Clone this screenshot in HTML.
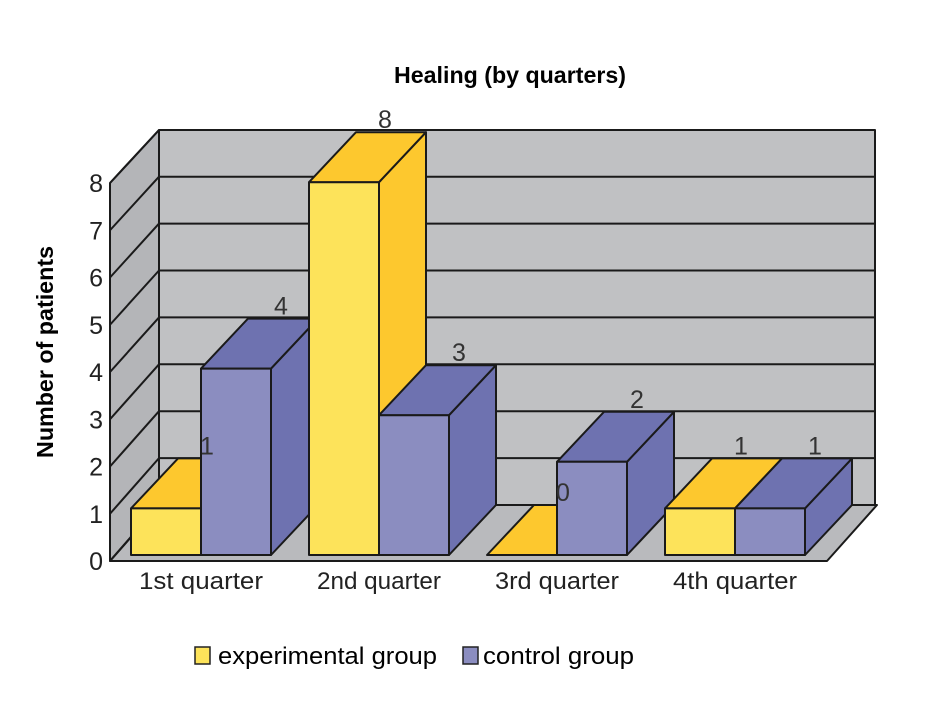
<!DOCTYPE html>
<html><head><meta charset="utf-8"><style>
html,body{margin:0;padding:0;background:#fff;width:933px;height:712px;overflow:hidden}
svg{display:block;font-family:"Liberation Sans",sans-serif}
</style></head><body>
<svg id="chart" width="933" height="712" viewBox="0 0 933 712" xmlns="http://www.w3.org/2000/svg">
<text x="510" y="83" font-size="23" font-weight="bold" text-anchor="middle" textLength="232" lengthAdjust="spacingAndGlyphs">Healing (by quarters)</text>
<text transform="translate(53,352) rotate(-90)" font-size="23" font-weight="bold" text-anchor="middle" textLength="212" lengthAdjust="spacingAndGlyphs">Number of patients</text>
<g id="walls"></g><g id="bars"></g><g id="labels"></g>
<g>
<rect x="195" y="647" width="15" height="17" fill="#fde35a" stroke="#222" stroke-width="1.5"/>
<text x="218" y="664" font-size="24" textLength="219" lengthAdjust="spacingAndGlyphs">experimental group</text>
<rect x="463" y="647" width="15" height="17" fill="#8b8dc0" stroke="#222" stroke-width="1.5"/>
<text x="483" y="664" font-size="24" textLength="151" lengthAdjust="spacingAndGlyphs">control group</text>
</g>
</svg>
<script>
const categories=["1st quarter","2nd quarter","3rd quarter","4th quarter"];
const experimental=[1,8,0,1];
const control=[4,3,2,1];
const ticks=[0,1,2,3,4,5,6,7,8];
const NS="http://www.w3.org/2000/svg";
const wallFrontX=110, wallBackX=159, wallRight=875;
const front0=561, frontUnit=47.25, back0=505, backUnit=46.9, wallTop=130;
const barBase=555, barUnit=46.6, bdx=47, bdy=-50, barW=70, firstX=131, pitch=178;
const yFront=v=>front0-v*frontUnit;
const yBack=v=>back0-v*backUnit;
const yBar=v=>barBase-v*barUnit;
const xGroup=i=>firstX+i*pitch;
function mk(tag,attrs,parent){const e=document.createElementNS(NS,tag);for(const k in attrs)e.setAttribute(k,attrs[k]);parent.appendChild(e);return e;}
const walls=document.getElementById('walls'),bars=document.getElementById('bars'),labels=document.getElementById('labels');
const S={stroke:"#1a1a1a","stroke-width":2,"stroke-linejoin":"round"};
let e;
e=mk('polygon',Object.assign({points:`${wallBackX},${wallTop} ${wallRight},${wallTop} ${wallRight},${back0} ${wallBackX},${back0}`,fill:"#c0c1c3"},S),walls);

e=mk('polygon',Object.assign({points:`${wallFrontX},${yFront(8)} ${wallBackX},${wallTop} ${wallBackX},${back0} ${wallFrontX},${front0}`,fill:"#b4b5b8"},S),walls);

e=mk('polygon',Object.assign({points:`${wallFrontX},${front0} ${wallBackX},${back0} ${wallRight+2},${back0} 827,${front0}`,fill:"#b9babd"},S),walls);

ticks.forEach(t=>{
  if(t>0&&t<8){const g=mk('line',{x1:wallBackX,y1:yBack(t),x2:wallRight,y2:yBack(t),stroke:"#1a1a1a","stroke-width":2},walls);
  }
  const d=mk('line',{x1:wallFrontX,y1:yFront(t),x2:wallBackX,y2:t==8?wallTop:yBack(t),stroke:"#1a1a1a","stroke-width":2},walls);
  
  const tl=mk('text',{x:103,y:yFront(t)+9,"font-size":25,"text-anchor":"end",fill:"#222"},labels);
  tl.textContent=t;
  
});
function bar(x,v,front,dark,name,dxLabel){
  const g=mk('g',{},bars);
  
  const yt=yBar(v);
  mk('polygon',Object.assign({points:`${x+barW},${yt} ${x+barW+bdx},${yt+bdy} ${x+barW+bdx},${barBase+bdy} ${x+barW},${barBase}`,fill:dark},S),g);
  mk('polygon',Object.assign({points:`${x},${yt} ${x+bdx},${yt+bdy} ${x+barW+bdx},${yt+bdy} ${x+barW},${yt}`,fill:dark},S),g);
  if(v>0)mk('rect',Object.assign({x:x,y:yt,width:barW,height:barBase-yt,fill:front},S),g);
  const t=mk('text',{x:x+barW/2+bdx+dxLabel,y:yt-54,"font-size":25,"text-anchor":"middle",fill:"#333"},labels);
  t.textContent=v;
  
}
categories.forEach((c,i)=>{
  const x=xGroup(i);
  bar(x,experimental[i],"#fde35a","#fdc82e","bar-experimental-"+(i+1),-6);
  bar(x+barW,control[i],"#8b8dc0","#6e72b0","bar-control-"+(i+1),-2);
  const t=mk('text',{x:x+barW,y:589,"font-size":24,"text-anchor":"middle",fill:"#222",textLength:124,lengthAdjust:"spacingAndGlyphs"},labels);
  t.textContent=c;
  
});
</script>
</body></html>
